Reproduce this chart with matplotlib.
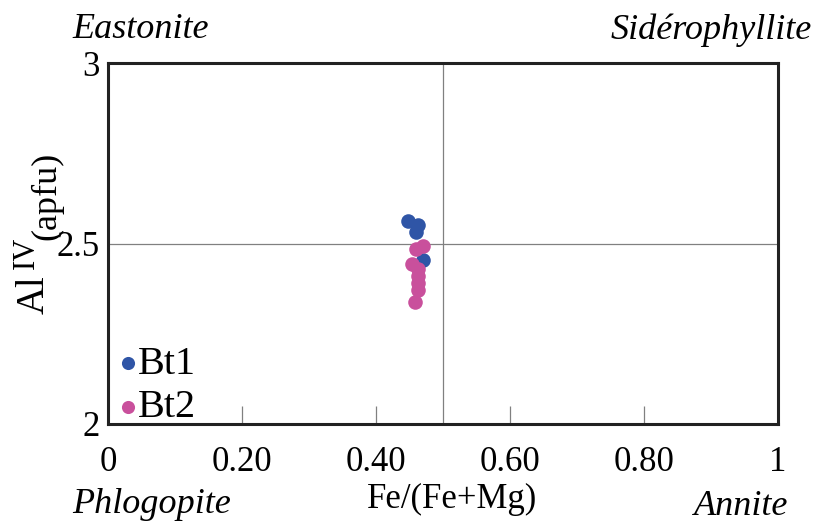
import matplotlib
matplotlib.use("Agg")
import matplotlib.pyplot as plt

plt.rcParams['font.family'] = ['Liberation Serif', 'DejaVu Serif']

# data
bt1_x = [0.448, 0.463, 0.460, 0.470]
bt1_y = [2.562, 2.550, 2.531, 2.455]
bt2_x = [0.470, 0.460, 0.453, 0.463, 0.462, 0.462, 0.462, 0.458]
bt2_y = [2.494, 2.485, 2.444, 2.430, 2.410, 2.390, 2.370, 2.338]

xticks = [0, 0.2, 0.4, 0.6, 0.8, 1]
xlabels = ["0", "0.20", "0.40", "0.60", "0.80", "1"]
yticks = [2, 2.5, 3]
ylabels = ["2", "2.5", "3"]

blue = '#2f55a6'
pink = '#c9509c'

W, H = 815, 522
fig = plt.figure(figsize=(W/100, H/100), dpi=100)
ax = fig.add_axes([108/W, 1-424/H, 670/W, 361/H])

ax.axvline(0.5, color='#808080', lw=0.9, zorder=1)
ax.axhline(2.5, color='#808080', lw=0.9, zorder=1)

ax.scatter(bt1_x, bt1_y, s=110, color=blue, label='Bt1', zorder=3, linewidths=0)
ax.scatter(bt2_x, bt2_y, s=110, color=pink, label='Bt2', zorder=4, linewidths=0)

ax.set_xlim(0, 1)
ax.set_ylim(2, 3)
ax.set_xticks(xticks)
ax.set_xticklabels(xlabels)
ax.set_yticks(yticks)
ax.set_yticklabels(ylabels)
ax.tick_params(axis='x', direction='in', length=13, width=0.9, color='#808080',
               labelsize=25, pad=16)
ax.tick_params(axis='y', length=0, labelsize=25, pad=6)
for s in ax.spines.values():
    s.set_linewidth(2.2)
    s.set_color('#222222')

# x label placed by hand under the tick labels
fig.text(452/W, 1-508/H, 'Fe/(Fe+Mg)', fontsize=25, ha='center', va='baseline')

# y label built from three pieces: Al, superscript IV, then (apfu)
def vtext(x, y, s, size):
    fig.text(x/W, 1-y/H, s, fontsize=size, rotation=90, rotation_mode='anchor',
             ha='left', va='baseline')

vtext(44, 314, 'Al', 28)
vtext(34, 269, 'IV', 22)
vtext(55, 240, '(apfu)', 26)

leg = ax.legend(loc='lower left', bbox_to_anchor=(0, -0.017), frameon=False,
                fontsize=29, handletextpad=-0.15, labelspacing=0.15,
                borderaxespad=0.0, borderpad=0.1, markerscale=0.9, handlelength=0.8)

fig.text(72/W, 1-38/H, 'Eastonite', fontsize=26, style='italic', ha='left', va='baseline')
fig.text(812/W, 1-39/H, 'Sidérophyllite', fontsize=26, style='italic', ha='right', va='baseline')
fig.text(72/W, 1-513/H, 'Phlogopite', fontsize=26, style='italic', ha='left', va='baseline')
fig.text(788/W, 1-515/H, 'Annite', fontsize=26, style='italic', ha='right', va='baseline')

fig.savefig('out.png', dpi=100)
